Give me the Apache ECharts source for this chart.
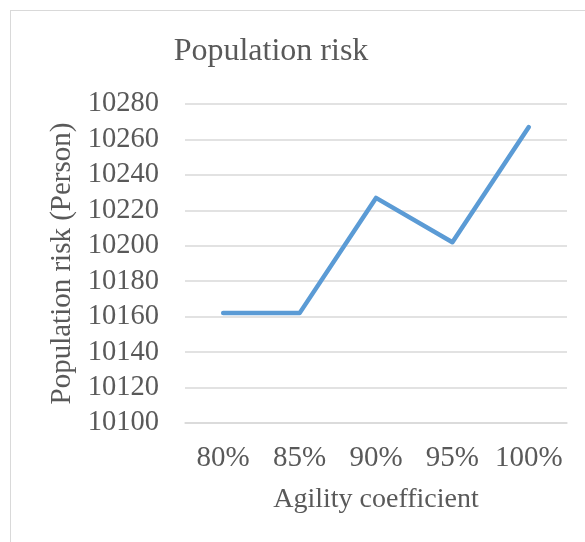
<!DOCTYPE html>
<html>
<head>
<meta charset="utf-8">
<script src="https://cdn.jsdelivr.net/npm/echarts@6/dist/echarts.min.js"></script>
<style>
html, body { margin: 0; padding: 0; background: #fff; }
#frame { position: absolute; left: 10px; top: 10px; width: 600px; height: 600px; border: 1px solid #d9d9d9; box-sizing: border-box; }
#chart { position: absolute; left: 0; top: 0; width: 585px; height: 542px; }
</style>
</head>
<body>
<div id="frame"></div>
<div id="chart"></div>
<script>
var categories = ['80%', '85%', '90%', '95%', '100%'];
var riskValues = [10162, 10162, 10227, 10202, 10267];
var yMin = 10100;
var yMax = 10280;
var yStep = 20;

var textColor = '#595959';
var fontName = '"Liberation Serif", "Times New Roman", serif';

var myChart = echarts.init(document.getElementById('chart'));

var option = {
	animation: false,
	title: {
		text: 'Population risk',
		left: 266,
		textAlign: 'center',
		top: 31,
		textStyle: {
			color: textColor,
			fontFamily: fontName,
			fontWeight: 'normal',
			fontSize: 32
		}
	},
	grid: {
		left: 185,
		right: 18,
		top: 104,
		bottom: 119,
		containLabel: false
	},
	xAxis: {
		type: 'category',
		data: categories,
		boundaryGap: true,
		name: 'Agility coefficient',
		nameLocation: 'middle',
		nameGap: 63,
		nameTextStyle: {
			color: textColor,
			fontFamily: fontName,
			fontSize: 28
		},
		axisLine: { show: true, lineStyle: { color: '#d9d9d9', width: 1.5 } },
		axisTick: { show: false },
		axisLabel: {
			interval: 0,
			color: textColor,
			fontFamily: fontName,
			fontSize: 29,
			margin: 21
		}
	},
	yAxis: {
		type: 'value',
		min: yMin,
		max: yMax,
		interval: yStep,
		name: 'Population risk (Person)',
		nameLocation: 'middle',
		nameGap: 103,
		nameRotate: 90,
		nameTextStyle: {
			color: textColor,
			fontFamily: fontName,
			fontSize: 29
		},
		axisLine: { show: false },
		axisTick: { show: false },
		axisLabel: {
			color: textColor,
			fontFamily: fontName,
			fontSize: 28.5,
			margin: 26,
			formatter: function (v) { return String(v); }
		},
		splitLine: { lineStyle: { color: '#d9d9d9', width: 1.5 } }
	},
	series: [
		{
			name: 'Population risk',
			type: 'line',
			data: riskValues,
			symbol: 'none',
			lineStyle: { color: '#5b9bd5', width: 4.5, cap: 'round', join: 'round' }
		}
	]
};

myChart.setOption(option);
</script>
</body>
</html>
